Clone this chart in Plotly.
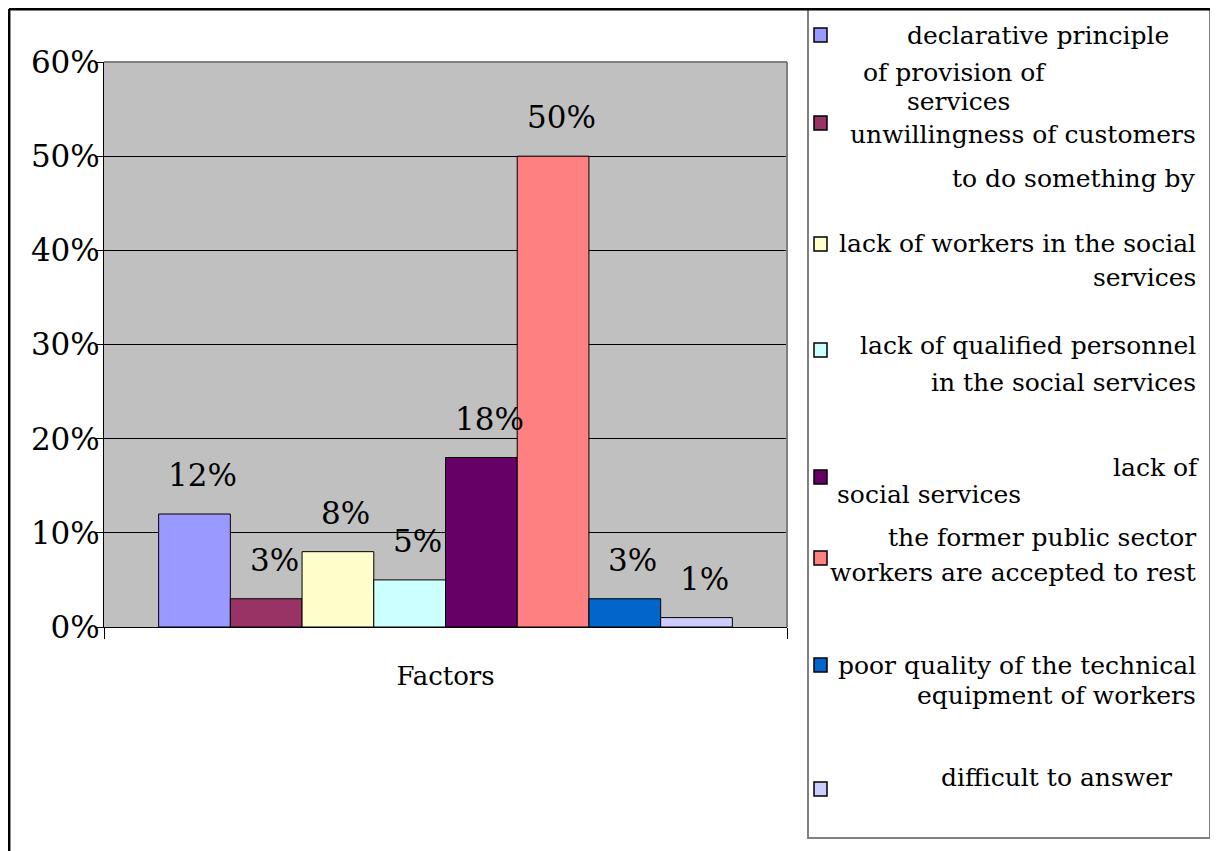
import plotly.graph_objects as go

# ---------------- data ----------------
categories = ["Factors"]
series_names = [
    "declarative principle of provision of services",
    "unwillingness of customers to do something by themselves",
    "lack of workers in the social services",
    "lack of qualified personnel in the social services",
    "lack of social services",
    "the former public sector workers are accepted to rest",
    "poor quality of the technical equipment of workers",
    "difficult to answer",
]
values = [0.12, 0.03, 0.08, 0.05, 0.18, 0.50, 0.03, 0.01]
colors = ["#9999FF", "#993366", "#FFFFCC", "#CCFFFF",
          "#660066", "#FF8080", "#0066CC", "#CCCCFF"]
y_tick_vals = [0, 0.1, 0.2, 0.3, 0.4, 0.5, 0.6]
y_tick_labels = ["0%", "10%", "20%", "30%", "40%", "50%", "60%"]

# ---------------- layout constants ----------------
OFF = 8  # page body margin
FIG_W, FIG_H = 1218 - OFF, 851 - OFF
L, R, T, B = 104 - OFF, 787 - OFF, 62 - OFF, 627 - OFF
PW, PH = R - L, B - T
BARGAP = 0.16
SERIF = "DejaVu Serif"


def px(x):
    """screen x -> paper"""
    return (x - OFF - L) / PW


def py(y):
    """screen y -> paper"""
    return (B - (y - OFF)) / PH


fig = go.Figure()
for name, v, c in zip(series_names, values, colors):
    fig.add_trace(go.Bar(
        x=categories, y=[v], name=name,
        marker=dict(color=c, line=dict(color="black", width=1)),
        showlegend=False,
    ))

# data labels above bars (Excel style offset)
n = len(values)
bw = PW * (1 - BARGAP) / n
for i, v in enumerate(values):
    fig.add_annotation(
        x=categories[0], y=v, xref="x", yref="y",
        text=f"{round(v * 100)}%", showarrow=False,
        xshift=(i - (n - 1) / 2) * bw + 8, yshift=39,
        yanchor="middle", xanchor="center",
        font=dict(size=31, family=SERIF, color="black"),
    )

shapes = []
shapes.append(dict(type="line", xref="paper", yref="paper", x0=0, x1=1, y0=1, y1=1,
                   line=dict(color="#808080", width=2)))
shapes.append(dict(type="line", xref="paper", yref="paper", x0=1, x1=1, y0=0, y1=1,
                   line=dict(color="#808080", width=2)))
shapes.append(dict(type="rect", xref="paper", yref="paper",
                   x0=px(808), x1=px(1210), y0=py(838), y1=py(9),
                   line=dict(color="#808080", width=2)))
shapes.append(dict(type="line", xref="paper", yref="paper",
                   x0=px(9), x1=px(1230), y0=py(9.2), y1=py(9.2),
                   line=dict(color="black", width=2.5)))
shapes.append(dict(type="line", xref="paper", yref="paper",
                   x0=px(9.2), x1=px(9.2), y0=py(9), y1=py(870),
                   line=dict(color="black", width=2.5)))

swatch_centers = [35, 123, 244, 350, 477, 558, 665, 789]
for c, yc in zip(colors, swatch_centers):
    shapes.append(dict(type="rect", xref="paper", yref="paper",
                       x0=px(814), x1=px(827), y0=py(yc + 7), y1=py(yc - 7),
                       fillcolor=c, line=dict(color="black", width=1.5)))

legend_lines = [
    ("declarative principle", 906, 36, "left"),
    ("of provision of", 862, 72, "left"),
    ("services", 906, 101, "left"),
    ("unwillingness of customers", 1197, 134, "right"),
    ("to do something by", 1197, 178, "right"),
    ("lack of workers in the social", 1197, 244, "right"),
    ("services", 1197, 277, "right"),
    ("lack of qualified personnel", 1197, 345, "right"),
    ("in the social services", 1197, 382, "right"),
    ("lack of", 1200, 467, "right"),
    ("social services", 836, 494, "left"),
    ("the former public sector", 1197, 537, "right"),
    ("workers are accepted to rest", 1197, 572, "right"),
    ("poor quality of the technical", 1197, 665, "right"),
    ("equipment of workers", 1197, 695, "right"),
    ("difficult to answer", 940, 777, "left"),
]
for txt, x, y, anc in legend_lines:
    fig.add_annotation(x=px(x), y=py(y), xref="paper", yref="paper",
                       text=txt, showarrow=False, xanchor=anc, yanchor="middle",
                       borderpad=0,
                       font=dict(size=25, family=SERIF, color="black"))

fig.update_layout(
    width=FIG_W, height=FIG_H, autosize=False,
    margin=dict(l=L, r=FIG_W - R, t=T, b=FIG_H - B, pad=0),
    paper_bgcolor="white", plot_bgcolor="#C0C0C0",
    barmode="group", bargap=BARGAP, bargroupgap=0,
    showlegend=False, shapes=shapes,
    font=dict(family=SERIF, color="black"),
)
fig.update_yaxes(
    range=[0, 0.6], tickvals=y_tick_vals, ticktext=y_tick_labels,
    showgrid=True, gridcolor="black", gridwidth=1,
    showline=True, linecolor="black", linewidth=1,
    ticks="outside", ticklen=7, tickcolor="black", tickwidth=1,
    tickfont=dict(size=31, family=SERIF, color="black"),
    ticklabelstandoff=-10,
    zeroline=False, fixedrange=True,
)
fig.update_xaxes(
    type="category", showline=True, linecolor="black", linewidth=1,
    ticks="outside", tickson="boundaries", ticklen=11, tickcolor="black", tickwidth=1,
    tickfont=dict(size=26, family=SERIF, color="black"),
    ticklabelstandoff=26, showgrid=False,
)

fig.write_html("out.html")
